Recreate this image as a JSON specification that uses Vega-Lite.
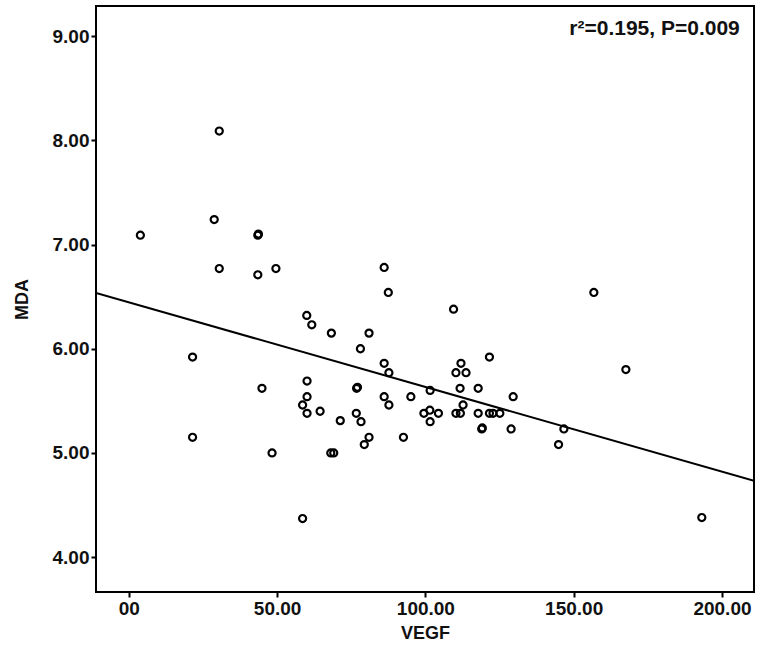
{
  "$schema": "https://vega.github.io/schema/vega-lite/v6.json",
  "width": 658,
  "height": 586,
  "autosize": {"type": "none"},
  "padding": {"left": 96, "top": 6, "right": 17, "bottom": 63},
  "background": "white",
  "config": {
    "view": {"stroke": "black", "strokeWidth": 2},
    "axis": {
      "grid": false, "domain": false, "ticks": true,
      "tickColor": "black", "tickWidth": 2, "tickSize": 5,
      "labelFont": "Liberation Sans", "labelFontWeight": "bold", "labelFontSize": 19, "labelColor": "#111",
      "titleFont": "Liberation Sans", "titleFontWeight": "bold", "titleFontSize": 18, "titleColor": "#111"
    }
  },
  "datasets": {
    "points": [
      {"VEGF": 3.9, "MDA": 7.09}, {"VEGF": 21.5, "MDA": 5.92}, {"VEGF": 21.5, "MDA": 5.15},
      {"VEGF": 28.8, "MDA": 7.24}, {"VEGF": 30.5, "MDA": 8.09}, {"VEGF": 30.5, "MDA": 6.77},
      {"VEGF": 43.5, "MDA": 7.09}, {"VEGF": 43.7, "MDA": 7.10}, {"VEGF": 43.5, "MDA": 6.71},
      {"VEGF": 44.9, "MDA": 5.62}, {"VEGF": 48.3, "MDA": 5.0}, {"VEGF": 49.6, "MDA": 6.77},
      {"VEGF": 58.6, "MDA": 5.46}, {"VEGF": 58.6, "MDA": 4.37}, {"VEGF": 60.0, "MDA": 6.32},
      {"VEGF": 61.7, "MDA": 6.23}, {"VEGF": 60.1, "MDA": 5.69}, {"VEGF": 60.1, "MDA": 5.54},
      {"VEGF": 60.1, "MDA": 5.38}, {"VEGF": 64.5, "MDA": 5.40}, {"VEGF": 68.3, "MDA": 6.15},
      {"VEGF": 68.1, "MDA": 5.0}, {"VEGF": 69.1, "MDA": 5.0}, {"VEGF": 71.3, "MDA": 5.31},
      {"VEGF": 76.7, "MDA": 5.38}, {"VEGF": 76.8, "MDA": 5.62}, {"VEGF": 77.1, "MDA": 5.63},
      {"VEGF": 78.1, "MDA": 6.0}, {"VEGF": 78.3, "MDA": 5.30}, {"VEGF": 79.4, "MDA": 5.08},
      {"VEGF": 81.0, "MDA": 6.15}, {"VEGF": 81.0, "MDA": 5.15}, {"VEGF": 86.1, "MDA": 6.78},
      {"VEGF": 87.5, "MDA": 6.54}, {"VEGF": 86.1, "MDA": 5.86}, {"VEGF": 87.7, "MDA": 5.77},
      {"VEGF": 86.1, "MDA": 5.54}, {"VEGF": 87.7, "MDA": 5.46}, {"VEGF": 92.6, "MDA": 5.15},
      {"VEGF": 95.1, "MDA": 5.54}, {"VEGF": 99.5, "MDA": 5.38}, {"VEGF": 101.5, "MDA": 5.41},
      {"VEGF": 104.4, "MDA": 5.38}, {"VEGF": 101.6, "MDA": 5.30}, {"VEGF": 101.6, "MDA": 5.60},
      {"VEGF": 109.5, "MDA": 6.38}, {"VEGF": 112.0, "MDA": 5.86}, {"VEGF": 110.3, "MDA": 5.77},
      {"VEGF": 113.7, "MDA": 5.77}, {"VEGF": 111.7, "MDA": 5.62}, {"VEGF": 117.8, "MDA": 5.62},
      {"VEGF": 121.6, "MDA": 5.92}, {"VEGF": 112.7, "MDA": 5.46}, {"VEGF": 110.3, "MDA": 5.38},
      {"VEGF": 111.8, "MDA": 5.38}, {"VEGF": 117.8, "MDA": 5.38}, {"VEGF": 121.6, "MDA": 5.38},
      {"VEGF": 122.8, "MDA": 5.38}, {"VEGF": 125.1, "MDA": 5.38}, {"VEGF": 119.0, "MDA": 5.23},
      {"VEGF": 119.2, "MDA": 5.24}, {"VEGF": 128.9, "MDA": 5.23}, {"VEGF": 129.6, "MDA": 5.54},
      {"VEGF": 144.9, "MDA": 5.08}, {"VEGF": 146.7, "MDA": 5.23}, {"VEGF": 156.8, "MDA": 6.54},
      {"VEGF": 167.6, "MDA": 5.80}, {"VEGF": 193.2, "MDA": 4.38}
    ],
    "fit": [
      {"VEGF": -11.06, "MDA": 6.536},
      {"VEGF": 210.8, "MDA": 4.732}
    ],
    "note": [
      {"VEGF": 206, "MDA": 9.07, "label": "r²=0.195, P=0.009"}
    ]
  },
  "layer": [
    {
      "data": {"name": "fit"},
      "mark": {"type": "line", "color": "black", "strokeWidth": 2, "clip": true},
      "encoding": {
        "x": {
          "field": "VEGF", "type": "quantitative", "title": "VEGF",
          "scale": {"domain": [-11.06, 210.8], "nice": false, "zero": false},
          "axis": {"values": [0, 50, 100, 150, 200], "labelExpr": "datum.value == 0 ? '00' : format(datum.value, '.2f')", "labelPadding": 2, "titlePadding": 6}
        },
        "y": {
          "field": "MDA", "type": "quantitative", "title": "MDA",
          "scale": {"domain": [3.665, 9.29], "nice": false, "zero": false},
          "axis": {"values": [4, 5, 6, 7, 8, 9], "format": ".2f", "labelPadding": 2, "titlePadding": 21}
        }
      }
    },
    {
      "data": {"name": "points"},
      "mark": {"type": "point", "shape": "circle", "filled": false, "stroke": "black", "strokeWidth": 2.2, "size": 50, "opacity": 1},
      "encoding": {
        "x": {"field": "VEGF", "type": "quantitative"},
        "y": {"field": "MDA", "type": "quantitative"}
      }
    },
    {
      "data": {"name": "note"},
      "mark": {"type": "text", "align": "right", "baseline": "middle", "font": "Liberation Sans", "fontWeight": "bold", "fontSize": 21, "color": "#111"},
      "encoding": {
        "x": {"field": "VEGF", "type": "quantitative"},
        "y": {"field": "MDA", "type": "quantitative"},
        "text": {"field": "label", "type": "nominal"}
      }
    }
  ]
}
